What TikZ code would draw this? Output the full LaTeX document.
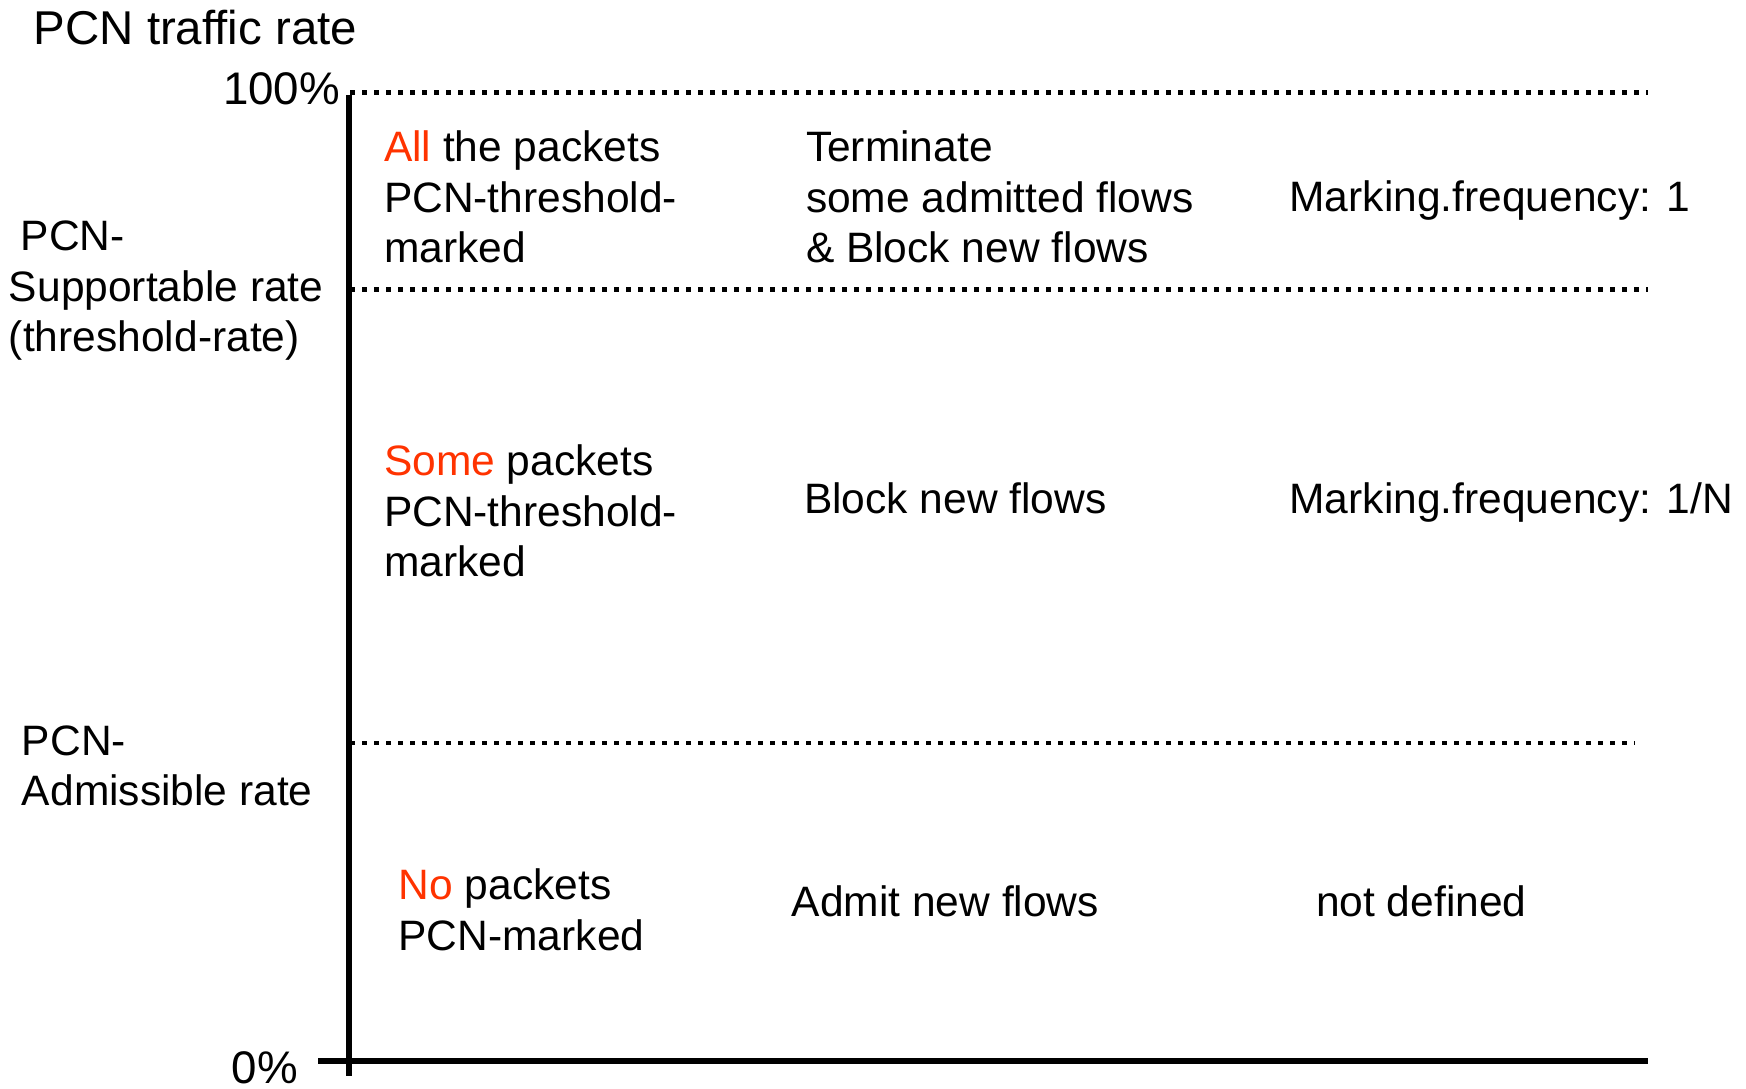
\documentclass[tikz,border=0pt]{standalone}
\usepackage{fontspec}
\setmainfont{Liberation Sans}
\definecolor{hot}{RGB}{255,51,0}
\newcommand{\bodyfont}{\fontsize{12.1}{14.4}\selectfont}
\newcommand{\lines}[1]{\begin{tabular}[t]{@{}l@{}}#1\end{tabular}}
\begin{document}
\begin{tikzpicture}[x=0.1mm,y=-0.1mm,
  lbl/.style={anchor=base west,inner sep=0pt,outer sep=0pt,font=\bodyfont},
  pct/.style={inner sep=0pt,outer sep=0pt,font=\fontsize{13}{15.5}\selectfont},
  axisline/.style={line width=0.6mm},
  level/.style={line width=0.47mm,dash pattern=on 0.47mm off 0.73mm}]
\useasboundingbox (0,0) rectangle (1746,1088);
\fill[white] (0,0) rectangle (1746,1088);

% axes
\coordinate (ytop) at (348.5,95.5);
\coordinate (ybot) at (348.5,1075.7);
\coordinate (xleft) at (318.3,1061);
\coordinate (xright) at (1648.3,1061);
\draw[axisline] (ytop) -- (ybot);
\draw[axisline,line width=0.63mm] (xleft) -- (xright);

% rate levels
\coordinate (full0) at (350,92.3);
\coordinate (full1) at (1648,92.3);
\coordinate (sup0) at (350,289.5);
\coordinate (sup1) at (1648,289.5);
\coordinate (adm0) at (350,743);
\coordinate (adm1) at (1634,743);
\draw[level] (full0) -- (full1);
\draw[level] (sup0) -- (sup1);
\draw[level] (adm0) -- (adm1);

% axis labels
\node[anchor=base west,inner sep=0pt,font=\fontsize{13.5}{16}\selectfont] (title) at (33,44.5) {PCN traffic rate};
\node[pct,anchor=base east] (p100) at (340,104.5) {100\%};
\node[pct,anchor=base west] (p0) at (231.6,1083) {0\%};
\node[lbl] (suprate) at (9,250.5) {\lines{\ PCN-\\Supportable rate\\(threshold-rate)}};
\node[lbl] (admrate) at (22,755) {\lines{PCN-\\Admissible rate}};

% upper band
\node[lbl] (allpk) at (384,161.5) {\lines{\textcolor{hot}{All} the packets\\PCN-threshold-\\marked}};
\node[lbl] (term) at (806,161.5) {\lines{Terminate\\some admitted flows\\\& Block new flows}};
\node[lbl] (freq1) at (1289.5,211.6) {Marking.frequency: 1};

% middle band
\node[lbl] (somepk) at (384,475.5) {\lines{\textcolor{hot}{Some} packets\\PCN-threshold-\\marked}};
\node[lbl] (block) at (804,513.3) {Block new flows};
\node[lbl] (freqN) at (1289.5,513.3) {Marking.frequency: 1/N};

% lower band
\node[lbl] (nopk) at (398.6,899.7) {\lines{\textcolor{hot}{No} packets\\PCN-marked}};
\node[lbl] (admit) at (791.7,916.4) {Admit new flows};
\node[lbl] (undef) at (1316,916.4) {not defined};
\end{tikzpicture}
\end{document}
